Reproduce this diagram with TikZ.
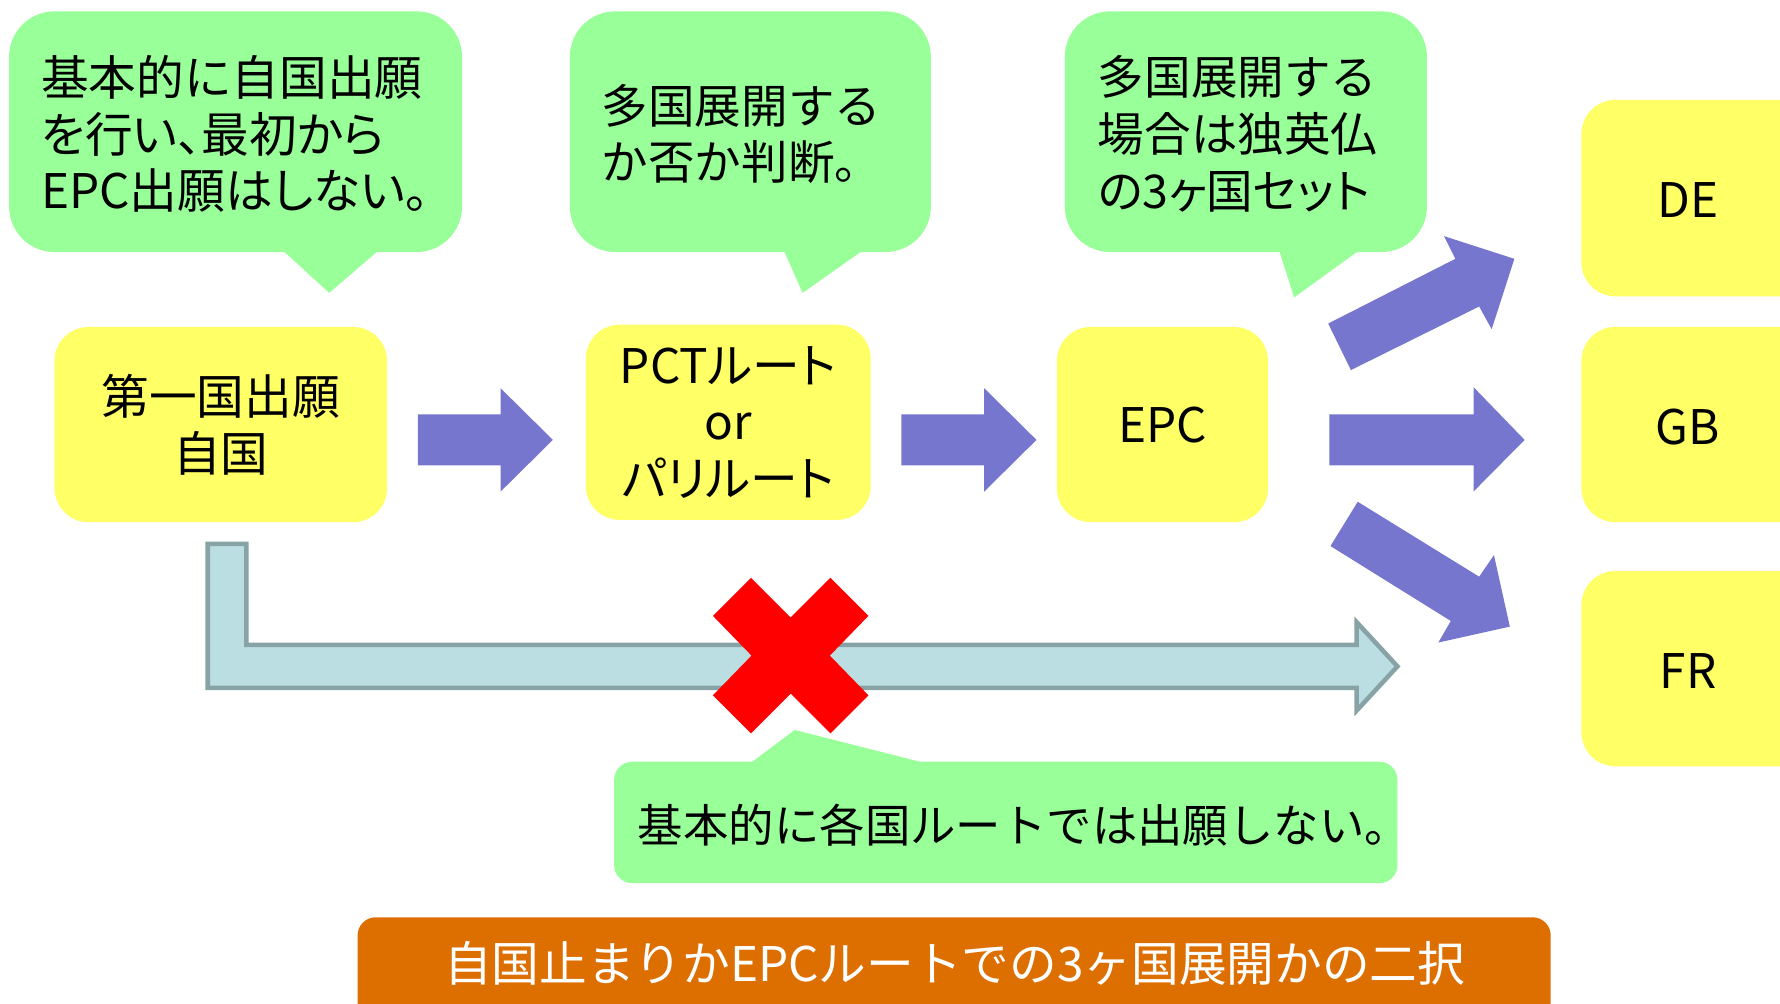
\documentclass[tikz,border=0pt]{standalone}
\usepackage{fontspec}
\setmainfont{Noto Sans CJK JP}
\newfontfamily\pfont[RawFeature=+palt]{Noto Sans CJK JP}
\definecolor{cgreen}{HTML}{99FF99}
\definecolor{cyellow}{HTML}{FFFF66}
\definecolor{cpurple}{HTML}{7676CE}
\definecolor{clblue}{HTML}{BBDEE3}
\definecolor{clbluedark}{HTML}{88A3A5}
\definecolor{corange}{HTML}{DD6E00}
\begin{document}
\begin{tikzpicture}[x=1pt,y=-1pt,
  callout/.style={fill=cgreen, rounded corners=40pt, inner sep=0pt},
  ybox/.style={fill=cyellow, rounded corners=30pt, inner sep=0pt, align=center,
    font=\fontsize{42}{50}\selectfont},
  ctext/.style={inner sep=0pt, align=left, anchor=west},
  barrow/.style={fill=cpurple},
]
\useasboundingbox (0,0) rectangle (1568,884);
\clip (0,0) rectangle (1568,884);

% callout 1
\node[callout, minimum width=399pt, minimum height=212pt] (c1) at (207.5,116) {};
\fill[cgreen] (243,215) -- (290,258) -- (340,215) -- cycle;
\node[ctext, font=\fontsize{42}{50}\selectfont] (t1) at (36,118) {基本的に自国出願\\{\pfont を行い、最初から}\\{\pfont EPC出願はしない。}};

% callout 2
\node[callout, minimum width=318pt, minimum height=212pt] (c2) at (661,116) {};
\fill[cgreen] (688,215) -- (707,258) -- (768,215) -- cycle;
\node[ctext, font=\fontsize{41}{50}\selectfont] (t2) at (530,118) {多国展開する\\か否か判断。};

% callout 3
\node[callout, minimum width=319pt, minimum height=212pt] (c3) at (1097.5,116) {};
\fill[cgreen] (1125,215) -- (1140,262) -- (1205,215) -- cycle;
\node[ctext, font=\fontsize{41}{50}\selectfont] (t3) at (967,118) {多国展開する\\場合は独英仏\\{\pfont の3ヶ国セット}};

% yellow boxes
\node[ybox, minimum width=293pt, minimum height=172pt] (first) at (194.5,374) {第一国出願\\自国};
\node[ybox, minimum width=251pt, minimum height=172pt] (pct) at (641.5,372) {\pfont PCTルート\\or\\\pfont パリルート};
\node[ybox, minimum width=186pt, minimum height=172pt] (epc) at (1024,374) {EPC};
\node[ybox, minimum width=250pt, minimum height=173pt] (de) at (1518,174.5) {};
\node[ybox, minimum width=250pt, minimum height=172pt] (gb) at (1518,374) {};
\node[ybox, minimum width=250pt, minimum height=172pt] (fr) at (1518,589) {};
\node[inner sep=0pt, font=\fontsize{42}{50}\selectfont] (detxt) at (1487,176) {DE};
\node[inner sep=0pt, font=\fontsize{42}{50}\selectfont] (gbtxt) at (1487,376) {GB};
\node[inner sep=0pt, font=\fontsize{42}{50}\selectfont] (frtxt) at (1487,591) {FR};

% block arrows
\fill[barrow] (368,365) -- (441,365) -- (441,342) -- (487,387.5) -- (441,433) -- (441,410) -- (368,410) -- cycle;
\fill[barrow] (794,365) -- (867,365) -- (867,342) -- (913,387.5) -- (867,433) -- (867,410) -- (794,410) -- cycle;
\fill[barrow] (1171,365) -- (1298,365) -- (1298,341) -- (1343,387.5) -- (1298,433) -- (1298,410) -- (1171,410) -- cycle;
\fill[barrow] (1170,285) -- (1282,228) -- (1272,208) -- (1334,228) -- (1314,290) -- (1303,270) -- (1190,326) -- cycle;
\fill[barrow] (1196,442) -- (1303,508) -- (1316,489) -- (1330,552) -- (1267,566) -- (1278,547) -- (1172,481) -- cycle;

% light blue L arrow
\draw[fill=clblue, draw=clbluedark, line width=4pt, miter limit=10]
  (183,479) -- (217,479) -- (217,568) -- (1195,568) -- (1195,548) -- (1231,587)
  -- (1195,626) -- (1195,606) -- (183,606) -- cycle;

% red cross
\begin{scope}[shift={(696.5,577.5)}]
\fill[red] (-34.5,0) -- (-68.5,-35) -- (-35,-68.5) -- (0,-33.5) -- (35,-68.5) -- (68.5,-35)
  -- (34.5,0) -- (68.5,35) -- (35,68.5) -- (0,33.5) -- (-35,68.5) -- (-68.5,35) -- cycle;
\end{scope}

% bottom callout
\node[fill=cgreen, rounded corners=16pt, minimum width=690pt, minimum height=107pt, inner sep=0pt] (c4) at (886,724.5) {};
\fill[cgreen] (656,676) -- (700,643) -- (830,676) -- cycle;
\node[inner sep=0pt, font=\fontsize{40}{46}\selectfont] (t4) at (902,727) {基本的に各国ルートでは出願しない。};

% orange bar
\node[fill=corange, rounded corners=16pt, minimum width=1051pt, minimum height=100pt, inner sep=0pt] (bar) at (840.5,858) {};
\node[inner sep=0pt, text=white, font=\fontsize{42}{50}\selectfont] (bartxt) at (841,849) {自国止まりかEPCルートでの3ヶ国展開かの二択};
\end{tikzpicture}
\end{document}
